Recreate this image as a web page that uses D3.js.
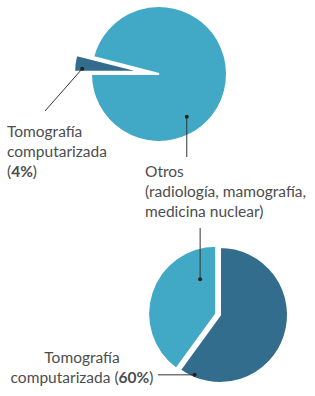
<!DOCTYPE html>
<html>
<head>
<meta charset="utf-8">
<script src="https://cdn.jsdelivr.net/npm/d3@7"></script>
<style>
  body { margin: 0; background: #fff; }
  text { font-family: Lato, "Open Sans", sans-serif; fill: #4d4d4d; }
</style>
</head>
<body>
<div id="chart"></div>
<script>
// data
var topCats = ["Tomografía computarizada", "Otros"];
var topValues = [4, 96];
var bottomCats = ["Tomografía computarizada", "Otros"];
var bottomValues = [60, 40];

var dark = "#336d8d", light = "#41a9c6";
var colors = [dark, light];

var width = 315, height = 396;

var svg = d3.select("#chart")
  .append("svg")
    .attr("width", width)
    .attr("height", height);

var r = 68;
var arc = d3.arc().innerRadius(0).outerRadius(r);

function drawPie(data, cx, cy, start, explode) {
  var pie = d3.pie().sort(null)
    .startAngle(start).endAngle(start + 2 * Math.PI);
  var arcs = pie(data);
  var g = svg.append("g").attr("transform", "translate(" + cx + "," + cy + ")");
  g.selectAll("path")
    .data(arcs)
    .enter()
    .append("path")
      .attr("d", arc)
      .attr("fill", function(d, i) { return colors[i]; })
      .attr("stroke", "#fff")
      .attr("stroke-width", 2)
      .attr("stroke-linejoin", "miter")
      .attr("transform", function(d, i) {
        var a = (d.startAngle + d.endAngle) / 2, e = explode[i];
        return "translate(" + (e * Math.sin(a)) + "," + (-e * Math.cos(a)) + ")";
      });
  return arcs;
}

// polar point inside a (possibly exploded) slice
function pt(cx, cy, d, e, deg, rad) {
  var m = (d.startAngle + d.endAngle) / 2;
  var a = deg * Math.PI / 180;
  return [cx + e * Math.sin(m) + rad * Math.sin(a), cy - e * Math.cos(m) - rad * Math.cos(a)];
}

function leader(p, q) {
  svg.append("line")
    .attr("x1", p[0]).attr("y1", p[1])
    .attr("x2", q[0]).attr("y2", q[1])
    .attr("stroke", "#333").attr("stroke-width", 1);
  svg.append("circle")
    .attr("cx", p[0]).attr("cy", p[1]).attr("r", 2)
    .attr("fill", "#222");
}

// top pie
var tx = 159, ty = 74;
var topArcs = drawPie(topValues, tx, ty, 1.5 * Math.PI, [17, 0]);
var p1 = pt(tx, ty, topArcs[0], 17, 273, 60);
leader(p1, [45, 111]);
var p2 = pt(tx, ty, topArcs[1], 0, 147, 51);
leader(p2, [p2[0], 157]);

// bottom pie
var bx = 220, by = 315;
var botArcs = drawPie(bottomValues, bx, by, 0, [0, 4]);
var p3 = pt(bx, by, botArcs[1], 4, 335, 38);
leader(p3, [p3[0], 228]);
var p4 = pt(bx, by, botArcs[0], 0, 203, 65);
leader(p4, [158, p4[1]]);

function label(x, y, anchor, lines) {
  var t = svg.append("text")
    .attr("x", x).attr("y", y)
    .attr("text-anchor", anchor)
    .style("font-size", "15.5px");
  lines.forEach(function(l, i) {
    var ts = t.append("tspan").attr("x", x).attr("dy", i === 0 ? 0 : 20);
    l.forEach(function(part) {
      ts.append("tspan")
        .style("font-weight", part.b ? "bold" : "normal")
        .text(part.t);
    });
  });
}

label(7, 137, "start", [
  [{t: "Tomografía"}],
  [{t: "computarizada"}],
  [{t: "("}, {t: topValues[0] + "%", b: 1}, {t: ")"}]
]);
label(145, 177, "start", [
  [{t: topCats[1]}],
  [{t: "(radiología, mamografía,"}],
  [{t: "medicina nuclear)"}]
]);
label(82, 363, "middle", [
  [{t: "Tomografía"}],
  [{t: "computarizada ("}, {t: bottomValues[0] + "%", b: 1}, {t: ")"}]
]);
</script>
</body>
</html>
